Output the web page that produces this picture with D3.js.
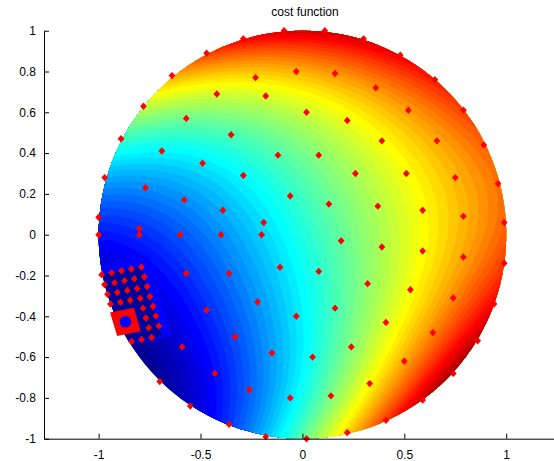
<!DOCTYPE html>
<html><head><meta charset="utf-8">
<script src="https://cdn.jsdelivr.net/npm/d3@7"></script>
<style>
html,body{margin:0;padding:0;background:#fff;}
svg{display:block;font-family:"Liberation Sans",Arial,Helvetica,sans-serif;}
</style></head><body>
<svg id="chart" width="554" height="461"></svg>
<script>
// Cost surface: quartic polynomial in (x, y), terms ordered
// 1, x, y, x^2, xy, y^2, x^3, x^2y, xy^2, y^3, x^4, x^3y, x^2y^2, xy^3, y^4
const costCoefficients = [0.4132, 0.3637, 0.1400, 0.0217, -0.2190, 0.1152, -0.0405, -0.0102,
  0.1139, 0.0847, 0.0386, -0.0871, 0.3552, -0.2155, 0.1745];

// Coarse search points
const gridPoints = [[-0.09,1.0],[-0.29,0.96],[-0.47,0.89],[-0.64,0.78],[-0.78,0.63],[-0.89,0.47],[-0.97,0.28],[-1.0,0.085],[-0.03,0.80],[-0.23,0.77],[-0.42,0.69],[-0.18,0.68],[-0.57,0.57],[-0.35,0.49],[-0.69,0.41],[-0.12,0.39],[-0.49,0.35],[-0.29,0.29],[-0.77,0.23],[-0.58,0.17],[-0.06,0.19],[-0.39,0.12],[-0.19,0.06],[-0.80,0.03],[-1.0,0.0],[-0.80,0.0],[-0.60,0.0],[-0.40,0.0],[-0.20,0.0],
[0.11,1.0],[0.30,0.96],[0.48,0.88],[0.65,0.76],[0.79,0.61],[0.89,0.44],[0.96,0.25],[0.99,0.06],[0.16,0.79],[0.36,0.72],[0.02,0.60],[0.22,0.56],[0.52,0.61],[0.66,0.46],[0.39,0.46],[0.08,0.39],[0.26,0.30],[0.51,0.30],[0.75,0.28],[0.13,0.15],[0.37,0.14],[0.59,0.12],[0.79,0.09],
[-0.11,-0.16],[-0.36,-0.19],[-0.57,-0.19],[-0.22,-0.33],[-0.47,-0.37],[-0.03,-0.40],[-0.33,-0.50],[-0.59,-0.55],[-0.15,-0.58],[-0.43,-0.68],[-0.70,-0.72],[-0.26,-0.76],[-0.06,-0.80],[-0.55,-0.84],[-0.36,-0.93],[-0.18,-0.99],
[0.02,-1.0],[0.19,-0.03],[0.39,-0.06],[0.59,-0.08],[0.79,-0.11],[0.99,-0.14],[0.08,-0.18],[0.32,-0.24],[0.53,-0.27],[0.74,-0.31],[0.94,-0.34],[0.16,-0.36],[0.41,-0.43],[0.64,-0.48],[0.86,-0.52],[0.05,-0.60],[0.24,-0.55],[0.50,-0.62],[0.74,-0.68],[0.14,-0.79],[0.33,-0.73],[0.59,-0.81],[0.41,-0.91],[0.22,-0.97]];

// Refined search points around the minimum
const refinedPoints = [[-0.985,-0.196],[-0.936,-0.187],[-0.888,-0.177],[-0.839,-0.168],[-0.790,-0.158],
[-0.971,-0.244],[-0.922,-0.235],[-0.873,-0.225],[-0.825,-0.216],[-0.776,-0.206],
[-0.956,-0.292],[-0.908,-0.283],[-0.859,-0.273],[-0.811,-0.264],[-0.762,-0.254],
[-0.942,-0.340],[-0.893,-0.331],[-0.845,-0.321],[-0.796,-0.312],[-0.748,-0.303],
[-0.782,-0.360],[-0.733,-0.351],[-0.768,-0.408],[-0.719,-0.399],[-0.754,-0.456],[-0.705,-0.447],
[-0.838,-0.523],[-0.789,-0.514],[-0.740,-0.504]];
const refinedRegion = [[-1.022,-0.154],[-0.758,-0.103],[-0.641,-0.494],[-0.905,-0.545]];
const refinedCore = [[-0.985,-0.196],[-0.790,-0.158],[-0.691,-0.495],[-0.886,-0.532]];
const bestPatch = [[-0.944,-0.381],[-0.827,-0.358],[-0.793,-0.473],[-0.909,-0.496]];
const bestPoint = [-0.868,-0.427];

const xTicks = [-1,-0.5,0,0.5,1];
const yTicks = [-1,-0.8,-0.6,-0.4,-0.2,0,0.2,0.4,0.6,0.8,1];
const title = "cost function";

function cost(px, py){
  const terms = [];
  for (let d = 0; d <= 4; d++) for (let k = 0; k <= d; k++) terms.push(Math.pow(px, d - k) * Math.pow(py, k));
  return d3.sum(terms, (t, i) => t * costCoefficients[i]);
}

const svg = d3.select("#chart");
const x = d3.scaleLinear().domain([-1.268, 1.29]).range([44, 44 + 2.558 * 203.8]);
const y = d3.scaleLinear().domain([-1, 1]).range([438.7, 30.7]);

// MATLAB-style jet colormap
function jet(t){
  const f = v => Math.max(0, Math.min(1, v));
  return d3.rgb(255*f(1.5-Math.abs(4*t-3)), 255*f(1.5-Math.abs(4*t-2)), 255*f(1.5-Math.abs(4*t-1)));
}

const defs = svg.append("defs");
defs.append("clipPath").attr("id","disk").append("ellipse")
  .attr("cx", x(0)).attr("cy", y(0)).attr("rx", x(1) - x(0)).attr("ry", y(-1) - y(0));

// Filled contours of the cost over the unit disk
const N = 260, g0 = -1.03, g1 = 1.03, step = (g1 - g0) / (N - 1);
const values = new Float64Array(N * N);
for (let j = 0; j < N; j++) for (let i = 0; i < N; i++)
  values[j * N + i] = Math.max(0, Math.min(1, cost(g0 + i * step, g1 - j * step)));
const nLev = 56;
const thresholds = d3.range(nLev).map(k => k / nLev);
const contours = d3.contours().size([N, N]).thresholds(thresholds)(values);
const proj = d3.geoTransform({point(px, py){ this.stream.point(x(g0 + (px - 0.5) * step), y(g1 - (py - 0.5) * step)); }});
const path = d3.geoPath(proj);
const field = svg.append("g").attr("clip-path", "url(#disk)");
field.selectAll("path.band").data(contours).join("path").attr("class","band")
  .attr("d", path).attr("fill", d => jet(d.value)).attr("stroke", "none");

const line = d3.line().x(d => x(d[0])).y(d => y(d[1]));
field.append("path").attr("d", line(refinedRegion) + "Z").attr("fill", "#0000ff");
field.append("path").attr("d", line(refinedCore) + "Z").attr("fill", "#00009a");

// Diamond markers
const diamond = {draw(ctx){ const w = 3.4, h = 3.7; ctx.moveTo(0,-h); ctx.lineTo(w,0); ctx.lineTo(0,h); ctx.lineTo(-w,0); ctx.closePath(); }};
const sym = d3.symbol().type(diamond);
svg.append("g").selectAll("path").data(gridPoints.concat(refinedPoints)).join("path")
  .attr("transform", d => `translate(${x(d[0])},${y(d[1])})`).attr("d", sym()).attr("fill", "#ff0000");
svg.append("path").attr("d", line(bestPatch) + "Z").attr("fill", "#ff0000");
svg.append("circle").attr("cx", x(bestPoint[0])).attr("cy", y(bestPoint[1])).attr("r", 5.8).attr("fill", "#0000ff");

// Axes with inward ticks
svg.append("g").attr("transform", `translate(0,${y(-1)})`)
  .call(d3.axisBottom(x).tickValues(xTicks).tickFormat(d => String(d)).tickSizeInner(-5).tickSizeOuter(0).tickPadding(12));
svg.append("g").attr("transform", `translate(${x.range()[0]},0)`)
  .call(d3.axisLeft(y).tickValues(yTicks).tickFormat(d => String(d)).tickSizeInner(-5).tickSizeOuter(0).tickPadding(8));
svg.selectAll(".domain").attr("stroke", "#000");
svg.selectAll(".tick line").attr("stroke", "#000");
svg.selectAll(".tick text").attr("font-size", 12).attr("fill", "#000")
  .attr("font-family", "'Liberation Sans',Arial,sans-serif");
svg.append("text").attr("x", (44 + 566) / 2).attr("y", 16).attr("text-anchor", "middle")
  .attr("font-size", 12).attr("fill", "#000").text(title);
</script></body></html>
